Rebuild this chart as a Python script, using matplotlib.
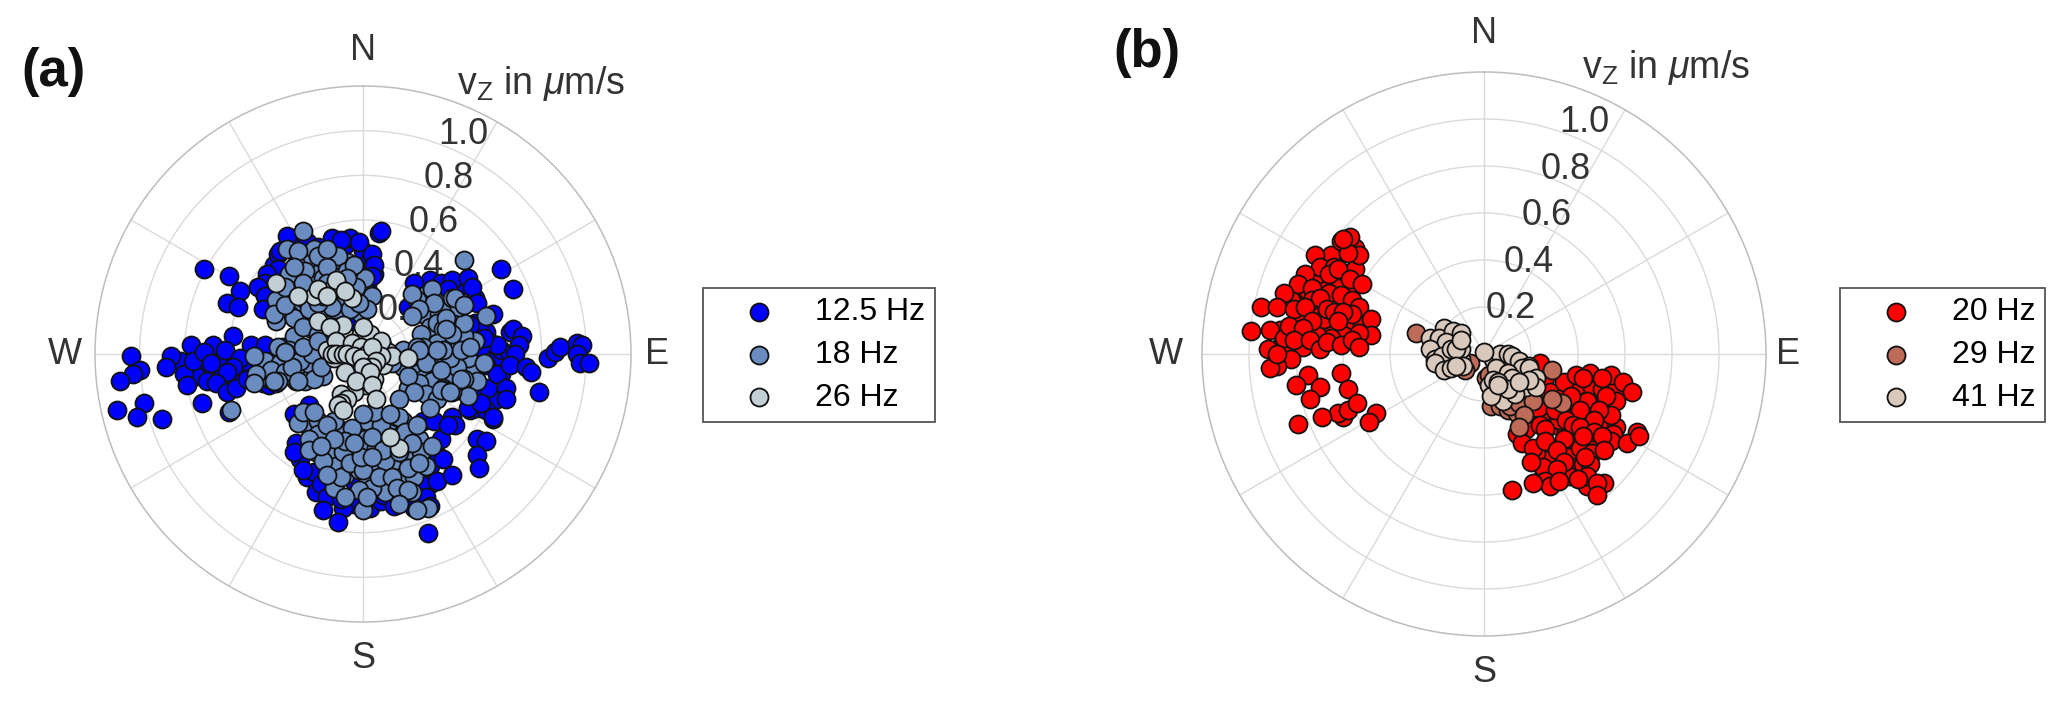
import numpy as np
import matplotlib
matplotlib.use('Agg')
import matplotlib.pyplot as plt

plt.rcParams['font.family'] = ['Liberation Sans', 'DejaVu Sans']
plt.rcParams['mathtext.fontset'] = 'custom'
plt.rcParams['mathtext.rm'] = 'Liberation Sans'
plt.rcParams['mathtext.it'] = 'Liberation Sans:italic'
plt.rcParams['mathtext.fallback'] = 'stix'

# velocity components (east, north) in um/s
# the *_under lists are estimates for the packed clusters, drawn first
hz_12_5_under = [(-.75,-.02),(-.72,-.08),(-.65,-.02),(-.63,-.10),(-.55,-.08),(-.50,-.05),(-.48,.02),(-.75,-.10),(-.82,-.03),
    (-.70,-.12),(-.45,-.13),(-.42,-.14),(-.40,.40),(-.42,.32),(-.45,.28),(-.42,.26),(-.38,.45),(-.33,.52),(-.25,.50),
    (-.15,.49),(-.08,.49),(0,.46),(.03,.42),(.05,.36),(.02,.30),(.30,.33),(.35,.32),(.43,.30),(.50,.25),(.50,.14),
    (.55,.10),(.57,.05),(.60,-.02),(.62,.02),(.55,-.05),(.52,-.18),(.48,-.25),(.60,-.20),(.66,0),(.62,-.09),(.66,.10),
    (-.30,-.40),(-.28,-.47),(-.25,-.55),(-.21,-.62),(-.12,-.62),(-.04,-.67),(.06,-.62),(.16,-.62),(.30,-.50),(.34,-.46),
    (.35,-.38),(.30,-.58),(.20,-.66),(.27,-.30),(.40,-.28),(-.22,-.53)]
hz_12_5 = [(-.34,.53),(-.37,.46),(-.38,.38),(-.43,.36),(-.44,.32),(-.47,.30),(-.71,.38),(-.60,.35),(-.55,.28),
    (-.61,.23),(-.56,.21),(-.44,.26),(-.45,.20),(-.14,.52),(-.06,.52),(-.02,.50),(.04,.45),(.07,.54),(.04,.39),
    (-.10,.51),(-.20,.48),(-.58,.08),(-.77,.04),(-.67,.04),(-.50,.04),(-.44,.04),(-.86,-.01),(-1.04,-.01),(-.62,.02),
    (-1.00,-.07),(-1.03,-.09),(-1.09,-.12),(-.88,-.06),(-.80,-.09),(-.79,-.14),(-.76,-.03),(-.71,.01),(-.68,-.04),
    (-.55,-.02),(-.58,-.06),(-.61,-.08),(-.66,-.13),(-.61,-.17),(-.57,-.15),(-.52,-.11),(-.39,-.13),(-.36,.03),
    (-1.10,-.25),(-.98,-.22),(-1.01,-.28),(-.90,-.29),(-.72,-.22),(-.60,-.26),(-.24,-.23),(-.31,-.27),(-.31,-.44),
    (-.27,-.52),(-.19,-.58),(-.16,-.64),(-.18,-.70),(-.09,-.69),(-.11,-.75),(.03,-.69),(.08,-.66),(.09,-.63),(.14,-.68),
    (.26,-.58),(.28,-.64),(.33,-.57),(.40,-.54),(.36,-.47),(.29,-.80),(.32,-.30),(.41,-.32),(.38,-.32),(.30,-.68),
    (.23,-.69),(.51,-.38),(.55,-.39),(.51,-.45),(.52,-.51),(.51,-.24),(.55,-.25),(.58,-.29),(.47,-.24),(.52,.12),
    (.48,.13),(.59,.04),(.56,-.15),(.29,-.13),(.60,-.09),(-.13,-.55),(-.04,-.57),(.02,-.59),(-.10,-.65),(.62,.38),
    (.67,.29),(.40,.33),(.47,.34),(.49,.30),(.38,.29),(.51,.23),(.58,.18),(.67,.11),(.71,.08),(.70,.04),(.60,.04),
    (.68,0),(.66,-.05),(.73,-.06),(.75,-.08),(.64,-.15),(.64,-.20),(.79,-.17),(.83,-.02),(.86,.01),(.88,.03),(.96,.05),
    (.98,.04),(.96,0),(.97,-.04),(1.01,-.04),(.53,.03),(.54,.07),(.53,-.22),(.58,-.28),(.08,.55),(.05,.40),(.04,.35),
    (.23,.32),(.20,.21),(-.04,.15)]
hz_18_under = [(-.37,.30),(-.33,.27),(-.30,.33),(-.24,.30),(-.22,.36),(-.18,.34),(-.12,.38),(-.10,.30),(-.12,.26),(-.09,.22),
    (-.17,.27),(-.23,.25),(-.29,.20),(-.33,.18),(-.36,.26),(-.26,.15),(-.22,.17),(-.17,.17),(-.12,.18),(-.25,.42),(-.30,.40),
    (-.22,.47),(-.13,.42),(-.07,.41),(-.03,.35),(.01,.28),(-.01,.18),(-.16,.13),(-.23,.11),(-.31,.08),
    (-.44,-.03),(-.42,-.11),(-.37,-.04),(-.33,-.10),(-.30,-.02),(-.26,-.07),(-.25,.02),(-.21,-.02),(-.44,-.10),(-.33,.02),
    (-.38,.03),(-.18,-.10),(.27,.26),(.27,.18),(.30,.12),(.34,.18),(.38,.20),(.42,.14),(.30,.08),(.38,.05),(.42,.02),
    (.30,-.08),(.26,-.08),(.31,-.12),(.38,-.10),(.40,-.12),(.45,-.04),(.49,-.08),(.47,-.02),(.50,.06),(.45,.08),(.22,-.05),
    (.18,-.06),(.25,-.13),(.20,-.15),(.18,.02),(.45,.14),(.33,.14),(.28,-.18),(.33,-.20),
    (-.25,-.32),(-.20,-.30),(-.19,-.36),(-.15,-.40),(-.13,-.44),(-.10,-.34),(-.21,-.44),(-.12,-.50),(-.08,-.54),(-.05,-.45),
    (-.02,-.33),(.01,-.38),(-.01,-.42),(.02,-.30),(.06,-.42),(.05,-.50),(.11,-.36),(.14,-.43),(.16,-.36),(.12,-.30),
    (.18,-.30),(.20,-.43),(.13,-.50),(.17,-.55),(.23,-.55),(.02,-.55),(.22,-.62),(.25,-.38),(.10,-.62),(.04,-.60),
    (-.13,-.60),(-.20,-.36),(.28,-.50)]
hz_18 = [(-.27,.55),(-.34,.47),(-.29,.46),(-.33,.36),(-.20,.44),(-.11,.44),(-.26,.37),(-.16,.39),(-.16,.47),(.01,.34),
    (.04,.26),(-.39,.24),(-.39,.15),(-.31,.16),(-.40,.18),(-.35,.22),(-.27,.25),(-.24,.20),(-.27,.12),(-.20,.09),
    (-.07,.37),(-.04,.40),(-.03,.30),(.02,.20),(-.06,.20),(-.14,.21),(-.20,.23),(-.16,.32),(-.27,.32),(-.35,.30),
    (-.31,.39),(-.07,.34),(-.02,.23),(-.12,.12),(-.35,.01),(-.41,-.07),(-.23,-.06),(-.30,-.12),(-.35,-.08),(-.28,-.03),
    (-.23,0),(-.32,-.06),(-.38,-.12),(-.26,-.12),(-.27,.03),(-.22,-.11),(-.19,-.06),(-.20,.06),(-.49,-.01),(-.48,-.09),
    (-.35,.01),(-.29,-.12),(-.49,-.13),(-.40,-.12),(-.59,-.25),(.24,.24),(.22,.27),(.31,.29),(.32,.23),(.25,.20),
    (.22,.17),(.40,.25),(.26,.09),(.43,.21),(.36,.11),(.40,.09),(.33,.05),(.27,.03),(.35,-.06),(.42,-.06),(.39,-.02),
    (.20,-.10),(.29,-.03),(.23,-.01),(.36,-.15),(.23,-.17),(.30,-.24),(.16,-.20),(.15,-.28),(.42,-.16),(.24,.03),
    (.45,.42),(.41,.25),(.45,.22),(.55,.17),(.37,.16),(.44,.02),(.54,-.04),(.51,-.12),(.45,-.11),(.36,-.16),(.47,-.19),
    (.40,-.17),(.36,.02),(.48,.03),(.37,.11),(-.13,-.30),(-.05,-.33),(.08,-.32),(.05,-.26),(-.10,-.55),(-.02,-.52),
    (.12,-.40),(-.29,-.31),(-.27,-.26),(-.22,-.26),(-.24,-.38),(-.24,-.43),(-.18,-.48),(-.09,-.44),(-.08,-.39),(0,-.27),
    (-.16,-.32),(-.06,-.49),(0,-.52),(-.16,-.54),(.04,-.37),(.10,-.48),(.16,-.28),(.12,-.27),(.19,-.35),(.24,-.32),
    (.26,-.44),(.31,-.41),(.20,-.51),(.25,-.49),(.07,-.55),(.13,-.55),(.15,-.60),(.20,-.61),(-.02,-.61),(-.08,-.64),
    (0,-.70),(.16,-.67),(.29,-.69),(.24,-.70),(.02,-.64),(.09,-.43),(-.01,-.46),(-.13,-.38),(-.19,-.41),(-.04,-.40),
    (.04,-.46),(.16,-.44),(.22,-.40),(.13,-.04),(.20,-.02),(.28,-.04),(.35,-.07),(.35,-.16),(.44,-.11),(.39,-.17),
    (.33,.02),(.25,.02)]
hz_26_under = [(-.10,.29),(-.18,.26),(-.13,.30),(-.22,.26),(-.01,.09),(.03,.09),(.06,.03),(.09,.03),(.11,.01),(-.11,.03),
    (-.16,.02),(-.13,-.02),(-.02,0),(.02,-.03),(-.05,-.05),(-.03,-.09),(.01,-.10),(.05,-.11),(.09,-.05),(.01,-.14),
    (-.04,-.17),(-.10,-.18)]
hz_26 = [(-.39,.32),(-.29,.26),(-.20,.29),(-.16,.26),(-.12,.33),(-.05,.25),(-.08,.28),(-.20,.15),(-.09,.13),(-.15,.12),
    (0,.12),(-.12,.06),(.08,.06),(-.05,.05),(-.01,.03),(.13,-.01),(.08,-.01),(.20,-.02),(-.14,0),(-.12,0),(-.09,0),
    (.02,0),(-.07,0),(-.04,-.01),(-.01,-.02),(.04,.03),(.06,-.03),(.04,-.06),(0,-.06),(.03,-.08),(-.08,-.08),(-.03,-.12),
    (.04,-.14),(.06,-.20),(-.07,-.20),(-.10,-.22),(-.11,-.23),(-.09,-.25),(.16,-.42),(.12,-.37)]

hz_20_under = [(-.55,.45),(-.62,.42),(-.65,.42),(-.62,.33),(-.55,.36),(-.68,.30),(-.72,.33),(-.70,.20),(-.62,.28),(-.66,.26),
    (-.57,.26),(-.78,.24),(-.82,.23),(-.75,.27),(-.78,.15),(-.72,.17),(-.69,.13),(-.65,.10),(-.58,.10),(-.55,.12),(-.60,.08),
    (-.65,.07),(-.71,.08),(-.79,.08),(-.87,.03),(-.87,.10),(-.83,.04),(-.77,.03),(-.52,.12),(-.58,.20),(-.68,.15),
    (.26,-.10),(.28,-.16),(.34,-.18),(.40,-.13),(.46,-.14),(.50,-.15),(.56,-.15),(.56,-.20),(.47,-.22),(.33,-.25),(.26,-.27),
    (.21,-.28),(.18,-.32),(.30,-.30),(.35,-.33),(.45,-.37),(.52,-.30),(.38,-.38),(.36,-.44),(.38,-.48),(.30,-.45),(.27,-.45),
    (.22,-.42),(.41,-.40),(.46,-.42),(.42,-.47),(.36,-.52),(.44,-.56),(.25,-.52),(.32,-.28),(.42,-.28),(.56,-.31),(.55,-.34)]
hz_20 = [(-.57,.50),(-.61,.48),(-.53,.42),(-.58,.43),(-.60,.49),(-.72,.42),(-.70,.37),(-.64,.37),(-.66,.34),(-.62,.36),
    (-.57,.32),(-.52,.30),(-.76,.34),(-.79,.30),(-.85,.26),(-.73,.28),(-.95,.20),(-.88,.20),(-.81,.19),(-.73,.23),
    (-.70,.24),(-.76,.20),(-.61,.25),(-.56,.23),(-.53,.20),(-.67,.19),(-.64,.18),(-.56,.17),(-.60,.18),(-.48,.15),
    (-.48,.08),(-.53,.09),(-.99,.10),(-.91,.10),(-.85,.07),(-.83,.12),(-.73,.14),(-.77,.11),(-.81,.06),(-.74,.06),
    (-.62,.14),(-.70,.02),(-.67,.05),(-.61,.04),(-.56,.06),(-.53,.03),(-.92,.02),(-.82,-.02),(-.88,-.05),(-.91,-.06),
    (-.88,0),(-.61,-.08),(-.58,-.15),(-.75,-.09),(-.70,-.14),(-.80,-.13),(-.74,-.19),(-.60,-.27),(-.62,-.25),(-.58,-.24),
    (-.54,-.21),(-.69,-.27),(-.79,-.30),(-.46,-.25),(-.49,-.29),
    (.24,-.04),(.34,-.12),(.39,-.09),(.45,-.08),(.42,-.10),(.54,-.09),(.50,-.10),(.59,-.12),(.63,-.16),(.52,-.18),
    (.44,-.20),(.37,-.18),(.54,-.26),(.49,-.24),(.41,-.24),(.23,-.23),(.30,-.24),(.24,-.30),(.26,-.32),(.35,-.28),
    (.38,-.30),(.47,-.28),(.41,-.31),(.47,-.33),(.54,-.37),(.42,-.35),(.50,-.35),(.65,-.33),(.61,-.38),(.66,-.35),
    (.51,-.41),(.34,-.36),(.14,-.34),(.16,-.38),(.21,-.40),(.26,-.37),(.31,-.41),(.45,-.47),(.43,-.44),(.25,-.48),
    (.20,-.46),(.34,-.46),(.31,-.49),(.26,-.54),(.28,-.56),(.32,-.54),(.21,-.55),(.44,-.52),(.40,-.53),(.51,-.55),
    (.48,-.55),(.48,-.60),(.12,-.58)]
hz_29 = [(-.29,.09),(-.06,-.04),(-.08,-.07),(.01,-.10),(.02,-.09),(.03,-.22),(.07,-.22),(.10,-.24),(.14,-.25),(.11,-.22),
    (.15,-.21),(.21,-.20),(.17,-.26),(.33,-.21),(.29,-.07),(.29,-.19),(.15,-.31)]
hz_41_under = [(-.16,.08),(-.14,.06),(-.11,.08),(-.20,.03),(-.17,.03),(-.15,-.02),(-.10,-.02),(-.17,-.04),(-.10,.02),(-.13,-.03),
    (.07,-.04),(.12,-.05),(.15,-.08),(.08,-.10),(.13,-.14),(.17,-.09),(.02,-.13),(.18,-.14),(.05,-.16),(.08,-.15)]
hz_41 = [(-.23,.07),(-.17,.11),(-.19,.07),(-.13,.10),(-.16,.05),(-.10,.09),(-.23,.02),(-.21,-.02),(-.18,-.01),(-.14,.02),
    (-.12,.02),(-.10,.06),(-.21,-.04),(-.17,-.07),(-.14,-.06),(-.09,-.05),(-.12,-.05),
    (.04,-.02),(.07,0),(.10,0),(.12,-.01),(.15,-.03),(.19,-.05),(.16,-.06),(.19,-.06),(.22,-.10),(.22,-.14),(.05,-.06),
    (.10,-.08),(.04,-.11),(.12,-.10),(.19,-.11),(.08,-.20),(.13,-.17),(.10,-.15),(.03,-.18),(.06,-.12),(.06,-.13),
    (.15,-.12),(0,.01)]

labels_a = ['12.5 Hz', '18 Hz', '26 Hz']
labels_b = ['20 Hz', '29 Hz', '41 Hz']
colors_a = ['#0000FF', '#6A8CBF', '#C2D0D6']
colors_b = ['#FF0000', '#BC6C59', '#D9C8BC']
rticks = [0.2, 0.4, 0.6, 0.8, 1.0]
compass = ['N', 'E', 'S', 'W']

W, H = 2067, 710
fig = plt.figure(figsize=(W/100, H/100), dpi=100)


def panel(cx, cy, rad, series, colors, names, lab_xy, lab_step, comp_pos, unit_xy, leg_xy):
    ax = fig.add_axes([(cx-rad)/W, (H-cy-rad)/H, 2*rad/W, 2*rad/H], projection='polar')
    ax.set_theta_zero_location('N')
    ax.set_theta_direction(-1)
    ax.set_rlim(0, 1.2)
    ax.set_rticks(rticks)
    ax.set_yticklabels([])
    ax.set_xticks(np.radians(np.arange(0, 360, 30)))
    ax.set_xticklabels([])
    ax.tick_params(length=0)
    ax.grid(color='#DADADA', lw=1.0)
    ax.spines['polar'].set_color('#BDBDBD')
    ax.spines['polar'].set_linewidth(1.1)
    handles = []
    for pts, col, name in zip(series, colors, names):
        e, n = np.array(pts).T
        h = ax.scatter(np.arctan2(e, n), np.hypot(e, n), s=168, c=col, edgecolors='#111111',
                       linewidths=1.3, zorder=3, label=name, clip_on=False)
        handles.append(h)
    # radial labels sit under the points
    for i, r in enumerate(rticks[::-1]):
        ax.text(lab_xy[0]-i*lab_step[0], lab_xy[1]-i*lab_step[1], '%.1f' % r, transform=ax.transAxes,
                fontsize=26, color='#333333', ha='center', va='center', zorder=2)
    for name, p in zip(compass, comp_pos):
        ax.text(p[0], p[1], name, transform=ax.transAxes, fontsize=26, color='#333333',
                ha='center', va='center', clip_on=False)
    ax.text(unit_xy[0], unit_xy[1], r'v$_{\mathrm{Z}}$ in $\mu$m/s', transform=ax.transAxes, fontsize=27,
            color='#333333', ha='left', va='baseline', clip_on=False)
    fig.legend(handles=handles, loc='center left', bbox_to_anchor=(leg_xy[0]/W, 1-leg_xy[1]/H), fontsize=23,
               frameon=True, fancybox=False, framealpha=1, edgecolor='#555555', borderpad=0.3, borderaxespad=0,
               handlelength=2.9, handletextpad=0.3, labelspacing=0.4, scatterpoints=1).get_frame().set_linewidth(1.3)


panel(363, 354, 268, [hz_12_5_under+hz_12_5, hz_18_under+hz_18, hz_26_under+hz_26], colors_a, labels_a,
      (0.687, 0.909), (0.028, 0.082),
      [(0.5, 1.067), (1.049, 0.5), (0.5, -0.069), (-0.056, 0.5)], (0.675, 0.985), (703, 355))
panel(1484, 354, 282, [hz_20_under+hz_20, hz_29, hz_41_under+hz_41], colors_b, labels_b,
      (0.677, 0.910), (0.0325, 0.0825),
      [(0.5, 1.069), (1.039, 0.5), (0.5, -0.064), (-0.064, 0.5)], (0.674, 0.990), (1840, 355))

fig.text(54/W, 1-72/H, '(a)', fontsize=38, fontweight='bold', ha='center', va='center', color='#111111')
fig.text(1147/W, 1-53/H, '(b)', fontsize=38, fontweight='bold', ha='center', va='center', color='#111111')

fig.savefig('out.png', dpi=100)
